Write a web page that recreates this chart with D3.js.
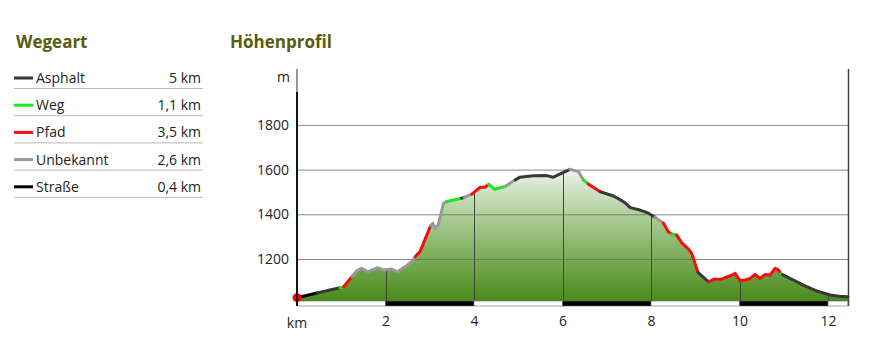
<!DOCTYPE html>
<html>
<head>
<meta charset="utf-8">
<script src="https://cdn.jsdelivr.net/npm/d3@7"></script>
<style>
  body { margin: 0; background: #fff; }
  text { font-family: "Open Sans", sans-serif; }
</style>
</head>
<body>
<div id="chart"></div>
<script>
// legend
var wayTypes = ["Asphalt", "Weg", "Pfad", "Unbekannt", "Straße"];
var wayLengths = ["5 km", "1,1 km", "3,5 km", "2,6 km", "0,4 km"];
var wayColors = ["#383838", "#1ee61e", "#f80c0c", "#999999", "#000000"];

// profile: distance (km), elevation (m), type of segment starting at point
var dist = [0.00, 0.45, 0.97, 1.05, 1.24, 1.35, 1.46, 1.61, 1.82, 1.95, 2.14, 2.27, 2.44, 2.59,
  2.67, 2.78, 3.02, 3.07, 3.12, 3.19, 3.31, 3.38, 3.72, 3.78, 3.95, 4.14, 4.25, 4.33, 4.47,
  4.70, 4.93, 5.04, 5.34, 5.64, 5.79, 6.06, 6.17, 6.36, 6.47, 6.58, 6.85, 6.96, 7.15, 7.34,
  7.41, 7.53, 7.75, 7.94, 8.09, 8.28, 8.39, 8.47, 8.58, 8.69, 8.84, 8.92, 9.06, 9.30, 9.41,
  9.56, 9.63, 9.79, 9.90, 10.01, 10.12, 10.24, 10.35, 10.46, 10.58, 10.69, 10.80, 10.88,
  10.93, 10.97, 11.14, 11.44, 11.74, 12.05, 12.25, 12.45];
var elev = [1027, 1048, 1071, 1075, 1121, 1148, 1158, 1143, 1161, 1151, 1155, 1143, 1165, 1188,
  1210, 1233, 1349, 1360, 1337, 1352, 1449, 1457, 1472, 1476, 1490, 1521, 1521, 1534, 1512,
  1524, 1554, 1566, 1572, 1573, 1566, 1591, 1601, 1591, 1554, 1536, 1501, 1494, 1482, 1461,
  1452, 1430, 1419, 1405, 1387, 1360, 1322, 1312, 1307, 1273, 1245, 1225, 1140, 1098, 1109,
  1109, 1113, 1125, 1136, 1103, 1106, 1113, 1131, 1113, 1131, 1128, 1158, 1151,
  1133, 1130, 1113, 1083, 1057, 1039, 1033, 1031];
var segType = ["Straße", "Asphalt", "Weg", "Pfad", "Unbekannt", "Unbekannt", "Unbekannt", "Unbekannt",
  "Unbekannt", "Unbekannt", "Unbekannt", "Unbekannt", "Unbekannt", "Unbekannt", "Pfad", "Pfad",
  "Unbekannt", "Unbekannt", "Unbekannt", "Unbekannt", "Unbekannt", "Weg", "Asphalt", "Unbekannt",
  "Pfad", "Pfad", "Pfad", "Weg", "Weg", "Unbekannt", "Asphalt", "Asphalt", "Asphalt", "Asphalt",
  "Asphalt", "Asphalt", "Unbekannt", "Unbekannt", "Weg", "Pfad", "Asphalt", "Asphalt", "Asphalt",
  "Asphalt", "Asphalt", "Asphalt", "Asphalt", "Asphalt", "Unbekannt", "Pfad", "Pfad", "Weg", "Pfad",
  "Pfad", "Pfad", "Pfad", "Asphalt", "Pfad", "Pfad", "Pfad", "Pfad", "Pfad", "Pfad", "Pfad", "Pfad",
  "Pfad", "Pfad", "Pfad", "Pfad", "Pfad", "Pfad", "Pfad", "Weg", "Asphalt", "Asphalt", "Asphalt",
  "Asphalt", "Asphalt", "Asphalt", "Asphalt"];

var yTicks = [1200, 1400, 1600, 1800];
var xTicks = [2, 4, 6, 8, 10, 12];

function init() {
  var w = 869, h = 353;
  var left = 297, right = 848, top = 69, bottom = 303.7;
  var stripTop = 301, stripH = 5;

  var svg = d3.select("#chart").append("svg")
    .attr("width", w).attr("height", h);

  var titleColor = "#585c10";

  // ---- legend ----
  svg.append("text").attr("x", 16).attr("y", 48)
    .attr("font-size", 17).attr("font-weight", "bold").attr("fill", titleColor)
    .text("Wegeart");

  var rows = svg.selectAll(".row").data(wayTypes).enter().append("g")
    .attr("transform", function (d, i) { return "translate(0," + (78 + i * 27.2) + ")"; });
  rows.append("line").attr("x1", 14).attr("x2", 33).attr("y1", 0).attr("y2", 0)
    .attr("stroke", function (d, i) { return wayColors[i]; }).attr("stroke-width", 3);
  rows.append("text").attr("x", 36).attr("y", 5).attr("font-size", 14).attr("fill", "#222")
    .text(function (d) { return d; });
  rows.append("text").attr("x", 201).attr("y", 5).attr("font-size", 14).attr("fill", "#222")
    .attr("text-anchor", "end").text(function (d, i) { return wayLengths[i]; });
  rows.append("line").attr("x1", 14).attr("x2", 203).attr("y1", 10.5).attr("y2", 10.5)
    .attr("stroke", "#bbb").attr("stroke-width", 1);

  svg.append("text").attr("x", 230).attr("y", 48)
    .attr("font-size", 17).attr("font-weight", "bold").attr("fill", titleColor)
    .text("Höhenprofil");

  // ---- scales ----
  var xScale = d3.scaleLinear().domain([0, 12.45]).range([left, right]);
  var yScale = d3.scaleLinear().domain([1000, 2050]).range([bottom, top]);

  var pts = dist.map(function (d, i) { return { x: d, y: elev[i], t: segType[i] }; });

  // gradient
  var defs = svg.append("defs");
  var grad = defs.append("linearGradient").attr("id", "fillGrad")
    .attr("gradientUnits", "userSpaceOnUse")
    .attr("x1", 0).attr("x2", 0).attr("y1", yScale(1610)).attr("y2", stripTop);
  grad.append("stop").attr("offset", "0%").attr("stop-color", "#eef5ec");
  grad.append("stop").attr("offset", "45%").attr("stop-color", "#9fc487");
  grad.append("stop").attr("offset", "100%").attr("stop-color", "#4a8a1a");

  var area = d3.area()
    .x(function (d) { return xScale(d.x); })
    .y0(stripTop)
    .y1(function (d) { return yScale(d.y); });

  defs.append("clipPath").attr("id", "areaClip")
    .append("path").datum(pts).attr("d", area);

  // horizontal grid
  svg.selectAll(".grid").data(yTicks).enter().append("line")
    .attr("x1", left).attr("x2", right)
    .attr("y1", function (d) { return yScale(d) + 0.5; })
    .attr("y2", function (d) { return yScale(d) + 0.5; })
    .attr("stroke", "#888").attr("stroke-width", 1);

  svg.append("path").datum(pts).attr("d", area).attr("fill", "url(#fillGrad)");

  // vertical grid inside area
  svg.append("g").attr("clip-path", "url(#areaClip)")
    .selectAll("line").data(xTicks).enter().append("line")
    .attr("x1", function (d) { return Math.round(xScale(d)) + 0.5; })
    .attr("x2", function (d) { return Math.round(xScale(d)) + 0.5; })
    .attr("y1", top).attr("y2", stripTop)
    .attr("stroke", "#3d4a33").attr("stroke-width", 1);

  // horizontal grid also faintly over the area
  svg.append("g").attr("clip-path", "url(#areaClip)")
    .selectAll("line").data(yTicks).enter().append("line")
    .attr("x1", left).attr("x2", right)
    .attr("y1", function (d) { return yScale(d) + 0.5; })
    .attr("y2", function (d) { return yScale(d) + 0.5; })
    .attr("stroke", "#556b45").attr("stroke-width", 1).attr("opacity", 0.7);

  // km strip
  var bands = [];
  for (var k = 0; k < xTicks.length; k++) {
    var x0 = k === 0 ? 0 : xTicks[k - 1];
    bands.push([x0, xTicks[k], k % 2 === 1]);
  }
  bands.push([12, 12.45, false]);
  svg.selectAll(".band").data(bands).enter().append("rect")
    .attr("x", function (d) { return xScale(d[0]); })
    .attr("width", function (d) { return xScale(d[1]) - xScale(d[0]); })
    .attr("y", stripTop).attr("height", stripH)
    .attr("fill", function (d) { return d[2] ? "#000" : "#fff"; })
    .attr("stroke", "#666").attr("stroke-width", 0.6);

  // profile segments coloured by way type
  var line = d3.line()
    .x(function (d) { return xScale(d.x); })
    .y(function (d) { return yScale(d.y); });
  var runs = [];
  var cur = null;
  for (var i = 0; i < pts.length - 1; i++) {
    if (!cur || cur.t !== pts[i].t) {
      cur = { t: pts[i].t, p: [pts[i]] };
      runs.push(cur);
    }
    cur.p.push(pts[i + 1]);
  }
  svg.selectAll(".seg").data(runs).enter().append("path")
    .attr("d", function (d) { return line(d.p); })
    .attr("fill", "none")
    .attr("stroke", function (d) { return wayColors[wayTypes.indexOf(d.t)]; })
    .attr("stroke-width", 3)
    .attr("stroke-linejoin", "round")
    .attr("stroke-linecap", "round");

  svg.append("circle").attr("cx", xScale(0)).attr("cy", yScale(elev[0]))
    .attr("r", 4.5).attr("fill", "#f00");

  // axes lines
  svg.append("line").attr("x1", left).attr("x2", left).attr("y1", top).attr("y2", 92)
    .attr("stroke", "#999").attr("stroke-width", 2);
  svg.append("line").attr("x1", left).attr("x2", left).attr("y1", 92).attr("y2", stripTop + stripH)
    .attr("stroke", "#111").attr("stroke-width", 2);
  svg.append("line").attr("x1", right + 0.5).attr("x2", right + 0.5).attr("y1", top).attr("y2", stripTop + stripH)
    .attr("stroke", "#444").attr("stroke-width", 1.5);

  // labels
  var yAxis = d3.axisLeft(yScale).tickValues(yTicks).tickFormat(d3.format("d"))
    .tickSize(0).tickPadding(7);
  var gy = svg.append("g").attr("transform", "translate(" + (left - 1) + ",0)").call(yAxis);
  gy.select(".domain").remove();
  gy.selectAll("text").attr("font-size", 14).attr("fill", "#222")
    .attr("font-family", "Open Sans, sans-serif");
  svg.append("text").attr("x", 290).attr("y", 82).attr("text-anchor", "end")
    .attr("font-size", 14).attr("fill", "#222").text("m");

  var xAxis = d3.axisBottom(xScale).tickValues(xTicks).tickFormat(d3.format("d"))
    .tickSize(0).tickPadding(10);
  var gx = svg.append("g").attr("transform", "translate(0," + (stripTop + stripH) + ")").call(xAxis);
  gx.select(".domain").remove();
  gx.selectAll("text").attr("font-size", 14).attr("fill", "#222")
    .attr("font-family", "Open Sans, sans-serif");
  svg.append("text").attr("x", left).attr("y", 328).attr("text-anchor", "middle")
    .attr("font-size", 14).attr("fill", "#222").text("km");
}

window.onload = init;
</script>
</body>
</html>
